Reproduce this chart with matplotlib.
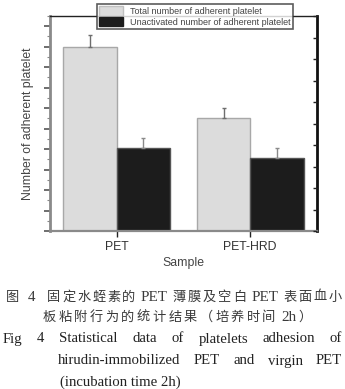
import re
import numpy as np
import matplotlib
matplotlib.use("Agg")
import matplotlib.pyplot as plt
from matplotlib.patches import Patch
from matplotlib.ticker import MultipleLocator, NullFormatter

# ---- data ----
samples = ["PET", "PET-HRD"]
total_adherent = [45.0, 27.6]
total_err = [2.8, 2.5]
unactivated_adherent = [20.2, 17.9]
unactivated_err = [2.5, 2.3]
series_labels = ["Total number of adherent platelet",
                 "Unactivated number of adherent platelet"]
x_label = "Sample"
y_label = "Number of adherent platelet"
caption_cn = ["图  4   固定水蛭素的 PET 薄膜及空白 PET 表面血小",
              "板粘附行为的统计结果（培养时间 2h）"]
caption_en = ["Fig  4  Statistical data of platelets adhesion of",
              "hirudin-immobilized PET and virgin PET",
              "(incubation time 2h)"]

W, H = 345, 389
DPI = 100
plt.rcParams["font.family"] = ["Liberation Sans", "DejaVu Sans"]

fig = plt.figure(figsize=(W / DPI, H / DPI), dpi=DPI)


def fx(px):
    return px / W


def fy(py):
    return 1 - py / H


# axes box in pixels: left 50, right 317, top 16, bottom 231
ax = fig.add_axes([fx(50), fy(231), fx(317) - fx(50), fy(16) - fy(231)])

x = np.arange(len(samples))
bw = 0.4
gray = "#dcdcdc"
dark = "#1c1c1c"
ax.bar(x - bw / 2, total_adherent, bw, color=gray, edgecolor="#a8a8a8",
       linewidth=1.0, zorder=2)
ax.bar(x + bw / 2, unactivated_adherent, bw, color=dark, edgecolor="#555555",
       linewidth=1.0, zorder=2)
ax.errorbar(x - bw / 2, total_adherent,
            yerr=[np.zeros(len(x)), total_err], fmt="none",
            ecolor="#6e6e6e", elinewidth=1.0, capsize=1.5, capthick=1.0, zorder=3)
ax.errorbar(x + bw / 2, unactivated_adherent,
            yerr=[np.zeros(len(x)), unactivated_err], fmt="none",
            ecolor="#8a8a8a", elinewidth=1.0, capsize=1.5, capthick=1.0, zorder=3)

ax.set_xlim(-0.5, 1.5)
ax.set_ylim(0, 52.5)
ax.set_xticks(x)
ax.set_xticklabels(samples, fontsize=8.8, color="#333333")
ax.tick_params(axis="x", direction="out", length=4, width=1, color="#222222",
               pad=3)
ax.yaxis.set_major_locator(MultipleLocator(5))
ax.yaxis.set_minor_locator(MultipleLocator(2.5))
ax.yaxis.set_major_formatter(NullFormatter())
ax.tick_params(axis="y", which="major", direction="out", length=4, width=1.2,
               color="#555555")
ax.tick_params(axis="y", which="minor", direction="out", length=2, width=0.8,
               color="#888888")
ax.set_xlabel(x_label, fontsize=8.8, color="#444444", labelpad=3)
ax.set_ylabel(y_label, fontsize=8.8, color="#444444", labelpad=4)

for side, col, lw in [("left", "#8a8a8a", 2.0), ("bottom", "#8a8a8a", 1.6),
                      ("top", "#222222", 1.0), ("right", "#111111", 2.0)]:
    ax.spines[side].set_color(col)
    ax.spines[side].set_linewidth(lw)

# secondary scale on the right side, ticks only
ax2 = ax.twinx()
ax2.set_ylim(0, 10)
ax2.yaxis.set_major_locator(MultipleLocator(1))
ax2.yaxis.set_major_formatter(NullFormatter())
ax2.tick_params(axis="y", direction="in", length=3, width=1, color="#222222")
for s in ax2.spines.values():
    s.set_visible(False)

# legend box above the axes
handles = [Patch(facecolor=gray, edgecolor="#c0c0c0"),
           Patch(facecolor=dark, edgecolor=dark)]
leg = fig.legend(handles, series_labels, loc="upper left",
                 bbox_to_anchor=(fx(97), fy(4)), fontsize=6.5,
                 frameon=True, fancybox=False, edgecolor="#333333",
                 handlelength=2.6, handleheight=1.2, handletextpad=0.8,
                 labelspacing=0.1, borderpad=0.25, borderaxespad=0)
leg.get_frame().set_linewidth(1.2)
for t in leg.get_texts():
    t.set_color("#444444")

renderer = fig.canvas.get_renderer()


def text_width(s, **kw):
    t = fig.text(0, 0, s, **kw)
    w = t.get_window_extent(renderer).width
    t.remove()
    return w


def draw_justified(words, x0, x1, y, **kw):
    widths = [text_width(w, **kw) for w in words]
    gap = (x1 - x0 - sum(widths)) / max(len(words) - 1, 1)
    xp = x0
    for w, wd in zip(words, widths):
        fig.text(fx(xp), fy(y), w, ha="left", va="center", **kw)
        xp += wd + gap


def draw_tracked(line, x0, x1, y, latin_scale=1.0, **kw):
    # split into CJK characters and ASCII runs, remembering spaces before each
    units = []
    for m in re.finditer(r"(\s*)([A-Za-z0-9\-]+|\S)", line):
        u = m.group(2)
        ukw = dict(kw)
        if u.isascii():
            ukw["fontsize"] = kw["fontsize"] * latin_scale
        units.append((len(m.group(1)), u, ukw))
    widths = [text_width(u, **k) for _, u, k in units]
    sp = text_width("a a", **kw) - text_width("aa", **kw)
    n_sp = sum(n for n, _, _ in units[1:])
    track = (x1 - x0 - sum(widths) - n_sp * sp) / max(len(units) - 1, 1)
    xp = x0
    for i, ((n, u, k), wd) in enumerate(zip(units, widths)):
        if i > 0:
            xp += track + n * sp
        fig.text(fx(xp), fy(y), u, ha="left", va="center_baseline", **k)
        xp += wd


cn_kw = dict(fontsize=9.5, color="#3a3a3a",
             family=["Liberation Serif", "Noto Sans CJK SC"])
draw_tracked(caption_cn[0], 6, 342, 296, latin_scale=1.15, **cn_kw)
draw_tracked(caption_cn[1], 43, 312, 316, latin_scale=1.15, **cn_kw)

en_kw = dict(fontsize=10.6, color="#222222", family=["Liberation Serif"])
draw_justified(caption_en[0].split(), 3, 342, 339, **en_kw)
draw_justified(caption_en[1].split(), 58, 342, 361, **en_kw)
fig.text(fx(60), fy(382), caption_en[2], ha="left", va="center", **en_kw)

fig.savefig("out.png", dpi=DPI)
